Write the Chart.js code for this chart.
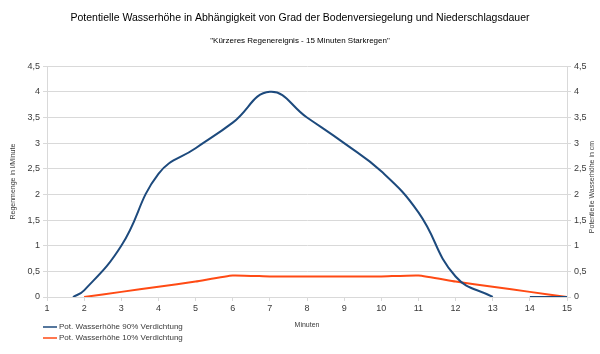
<!DOCTYPE html>
<html>
<head>
<meta charset="utf-8">
<script src="https://cdn.jsdelivr.net/npm/chart.js@4/dist/chart.umd.min.js"></script>
<style>
  html, body { margin: 0; padding: 0; background: #fff; }
  #wrap { position: relative; width: 600px; height: 354px; }
</style>
</head>
<body>
<div id="wrap"><canvas id="c" width="600" height="354"></canvas></div>
<script>
// ---- data ----
const titleText = "Potentielle Wasserhöhe in Abhängigkeit von Grad der Bodenversiegelung und Niederschlagsdauer";
const subtitleText = "\"Kürzeres Regenereignis - 15 Minuten Starkregen\"";
const xTitle = "Minuten";
const yLeftTitle = "Regenmenge in l/Minute";
const yRightTitle = "Potentielle Wasserhöhe in cm";

const series1Label = "Pot. Wasserhöhe 90% Verdichtung";
const series1X = [1.7, 2, 3, 4, 5, 6, 7, 8, 9, 10, 11, 12, 13, 13.5, 14, 15];
const series1Y = [0, 0.13, 1.0, 2.4, 2.9, 3.4, 4.0, 3.5, 3.0, 2.45, 1.65, 0.4, 0, null, 0, 0];

const series2Label = "Pot. Wasserhöhe 10% Verdichtung";
const series2X = [2, 3, 4, 5, 6, 7, 8, 9, 10, 11, 12, 13, 14, 15];
const series2Y = [0, 0.1, 0.2, 0.3, 0.42, 0.4, 0.4, 0.4, 0.4, 0.42, 0.3, 0.2, 0.1, 0];

const xTicks = [1, 2, 3, 4, 5, 6, 7, 8, 9, 10, 11, 12, 13, 14, 15];
const yTicks = [0, 0.5, 1, 1.5, 2, 2.5, 3, 3.5, 4, 4.5];

const blue = "#1d4a7d";
const orange = "#ff4a14";
const gridColor = "#d9d9d9";
const textColor = "#3a3a3a";
const FONT = "'Liberation Sans', Arial, sans-serif";

const toPts = (xs, ys) => xs.map((x, i) => ({ x: x, y: ys[i] }));
const fmt = v => String(v).replace('.', ',');

const extraText = {
  id: 'extraText',
  afterDraw(chart) {
    const ctx = chart.ctx;
    const area = chart.chartArea;
    ctx.save();
    // x-axis title
    ctx.fillStyle = textColor;
    ctx.font = "7px " + FONT;
    ctx.textAlign = 'center';
    ctx.textBaseline = 'middle';
    ctx.fillText(xTitle, (area.left + area.right) / 2, 325);
    // right axis title (reads bottom-to-top)
    ctx.translate(592, 187);
    ctx.rotate(-Math.PI / 2);
    ctx.fillText(yRightTitle, 0, 0);
    ctx.restore();
    // legend
    ctx.save();
    ctx.font = "8px " + FONT;
    ctx.textAlign = 'left';
    ctx.textBaseline = 'middle';
    chart.data.datasets.forEach((ds, i) => {
      const y = 327 + i * 11;
      ctx.strokeStyle = ds.borderColor;
      ctx.lineWidth = 1.5;
      ctx.beginPath();
      ctx.moveTo(43, y);
      ctx.lineTo(57, y);
      ctx.stroke();
      ctx.fillStyle = textColor;
      ctx.fillText(ds.label, 59, y);
    });
    ctx.restore();
  }
};

new Chart(document.getElementById('c'), {
  type: 'line',
  data: {
    datasets: [
      {
        label: series1Label,
        data: toPts(series1X, series1Y),
        borderColor: blue,
        backgroundColor: blue,
        borderWidth: 2,
        pointRadius: 0,
        tension: 0.45,
        spanGaps: false,
        yAxisID: 'y'
      },
      {
        label: series2Label,
        data: toPts(series2X, series2Y),
        borderColor: orange,
        backgroundColor: orange,
        borderWidth: 2,
        pointRadius: 0,
        tension: 0.15,
        yAxisID: 'y'
      }
    ]
  },
  options: {
    responsive: false,
    animation: false,
    devicePixelRatio: 1,
    layout: { padding: { left: 0, right: 0, top: 0, bottom: 0 } },
    plugins: {
      legend: { display: false },
      tooltip: { enabled: false },
      title: {
        display: true,
        text: titleText,
        color: '#000',
        font: { family: FONT, size: 10.5, weight: 'normal' },
        padding: { top: 12, bottom: 11 }
      },
      subtitle: {
        display: true,
        text: subtitleText,
        color: '#000',
        font: { family: FONT, size: 8, weight: 'normal' },
        padding: { top: 0, bottom: 21 }
      }
    },
    scales: {
      x: {
        type: 'linear',
        min: 1,
        max: 15,
        afterBuildTicks: s => { s.ticks = xTicks.map(v => ({ value: v })); },
        ticks: { color: textColor, font: { family: FONT, size: 9 }, padding: 2, maxRotation: 0, autoSkip: false },
        grid: { display: true, drawOnChartArea: false, drawTicks: true, tickLength: 4, color: gridColor },
        border: { display: true, color: gridColor },
        afterFit: s => { s.height = 57; }
      },
      y: {
        position: 'left',
        min: 0,
        max: 4.5,
        afterBuildTicks: s => { s.ticks = yTicks.map(v => ({ value: v })); },
        ticks: { color: textColor, font: { family: FONT, size: 9 }, padding: 3, callback: v => fmt(v) },
        grid: { color: gridColor, tickLength: 4 },
        border: { display: true, color: gridColor },
        title: { display: true, text: yLeftTitle, color: textColor, font: { family: FONT, size: 7 }, padding: { top: 9, bottom: 0 } },
        afterFit: s => { s.width = 47; }
      },
      y2: {
        position: 'right',
        min: 0,
        max: 4.5,
        afterBuildTicks: s => { s.ticks = yTicks.map(v => ({ value: v })); },
        ticks: { color: textColor, font: { family: FONT, size: 9 }, padding: 3, callback: v => fmt(v) },
        grid: { drawOnChartArea: false, color: gridColor, tickLength: 4 },
        border: { display: true, color: gridColor },
        afterFit: s => { s.width = 33; }
      }
    }
  },
  plugins: [extraText]
});
</script>
</body>
</html>
